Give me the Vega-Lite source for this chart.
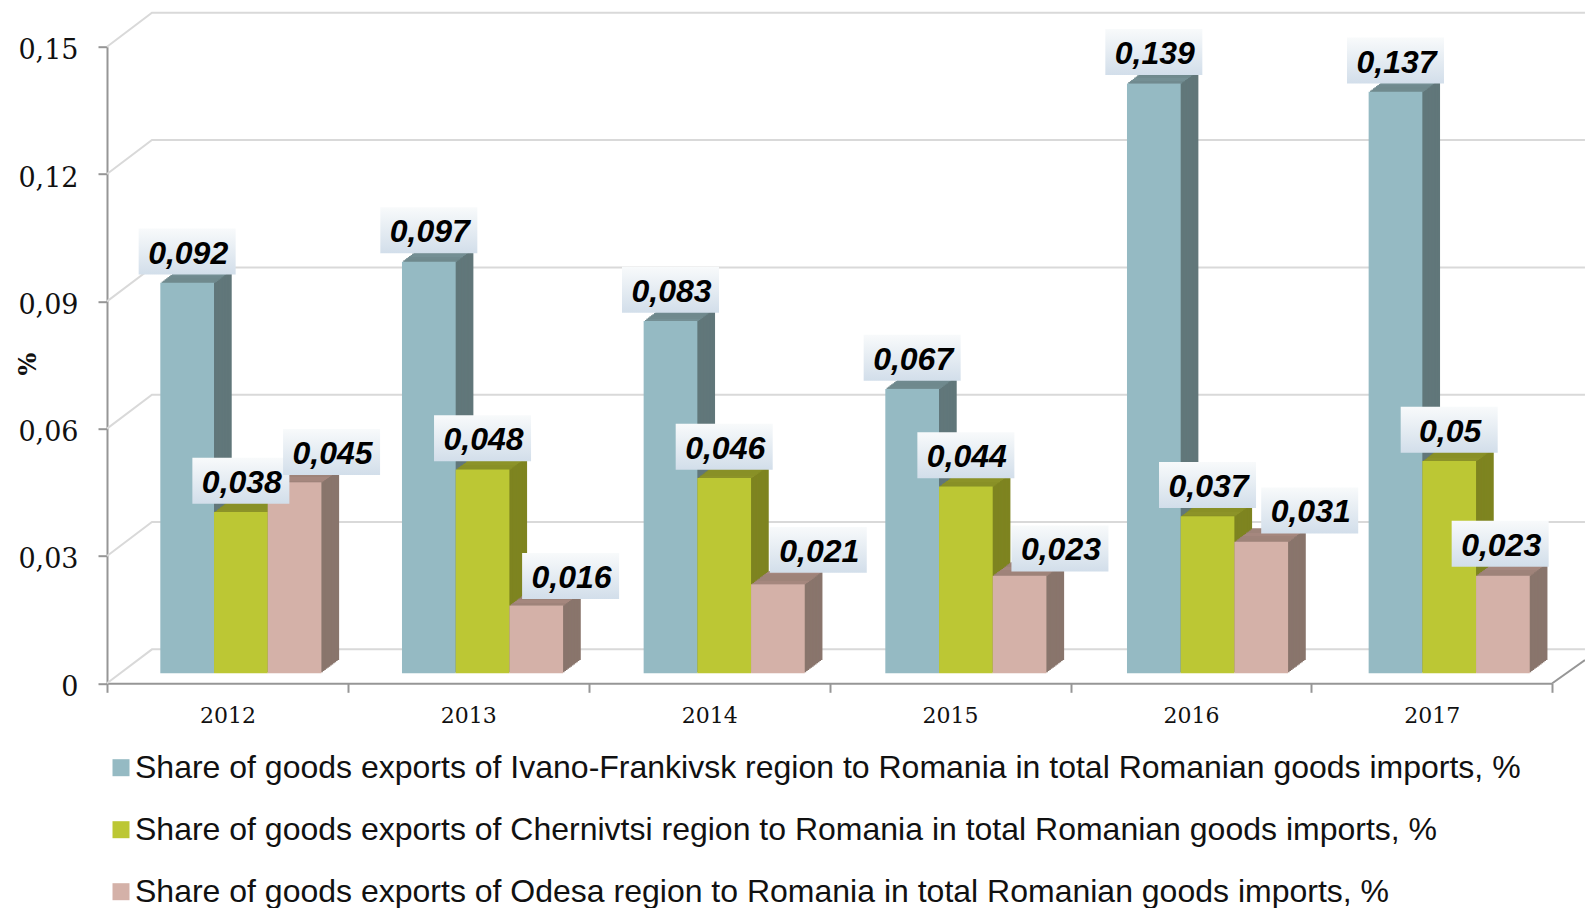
{"$schema":"https://vega.github.io/schema/vega-lite/v6.json","width":1445.3,"height":636.6,"autosize":{"type":"none"},"padding":{"left":107,"top":46.7,"right":32.7,"bottom":224.7},"background":"white","view":{"stroke":null},"config":{"axis":{"labelFont":"DejaVu Serif","labelColor":"#111111"}},
"datasets":{"bars":[
{"year":"2012","series":"Share of goods exports of Ivano-Frankivsk region to Romania in total Romanian goods imports, %","region":"Ivano-Frankivsk","value":0.092,"label":"0,092"},
{"year":"2012","series":"Share of goods exports of Chernivtsi region to Romania in total Romanian goods imports, %","region":"Chernivtsi","value":0.038,"label":"0,038"},
{"year":"2012","series":"Share of goods exports of Odesa region to Romania in total Romanian goods imports, %","region":"Odesa","value":0.045,"label":"0,045"},
{"year":"2013","series":"Share of goods exports of Ivano-Frankivsk region to Romania in total Romanian goods imports, %","region":"Ivano-Frankivsk","value":0.097,"label":"0,097"},
{"year":"2013","series":"Share of goods exports of Chernivtsi region to Romania in total Romanian goods imports, %","region":"Chernivtsi","value":0.048,"label":"0,048"},
{"year":"2013","series":"Share of goods exports of Odesa region to Romania in total Romanian goods imports, %","region":"Odesa","value":0.016,"label":"0,016"},
{"year":"2014","series":"Share of goods exports of Ivano-Frankivsk region to Romania in total Romanian goods imports, %","region":"Ivano-Frankivsk","value":0.083,"label":"0,083"},
{"year":"2014","series":"Share of goods exports of Chernivtsi region to Romania in total Romanian goods imports, %","region":"Chernivtsi","value":0.046,"label":"0,046"},
{"year":"2014","series":"Share of goods exports of Odesa region to Romania in total Romanian goods imports, %","region":"Odesa","value":0.021,"label":"0,021"},
{"year":"2015","series":"Share of goods exports of Ivano-Frankivsk region to Romania in total Romanian goods imports, %","region":"Ivano-Frankivsk","value":0.067,"label":"0,067"},
{"year":"2015","series":"Share of goods exports of Chernivtsi region to Romania in total Romanian goods imports, %","region":"Chernivtsi","value":0.044,"label":"0,044"},
{"year":"2015","series":"Share of goods exports of Odesa region to Romania in total Romanian goods imports, %","region":"Odesa","value":0.023,"label":"0,023"},
{"year":"2016","series":"Share of goods exports of Ivano-Frankivsk region to Romania in total Romanian goods imports, %","region":"Ivano-Frankivsk","value":0.139,"label":"0,139"},
{"year":"2016","series":"Share of goods exports of Chernivtsi region to Romania in total Romanian goods imports, %","region":"Chernivtsi","value":0.037,"label":"0,037"},
{"year":"2016","series":"Share of goods exports of Odesa region to Romania in total Romanian goods imports, %","region":"Odesa","value":0.031,"label":"0,031"},
{"year":"2017","series":"Share of goods exports of Ivano-Frankivsk region to Romania in total Romanian goods imports, %","region":"Ivano-Frankivsk","value":0.137,"label":"0,137"},
{"year":"2017","series":"Share of goods exports of Chernivtsi region to Romania in total Romanian goods imports, %","region":"Chernivtsi","value":0.05,"label":"0,05"},
{"year":"2017","series":"Share of goods exports of Odesa region to Romania in total Romanian goods imports, %","region":"Odesa","value":0.023,"label":"0,023"}
],
"walls":[
{"line":"0","wx":0,"wy":0},{"line":"0","wx":0.0311,"wy":0.008},{"line":"0","wx":1.0226,"wy":0.008},
{"line":"0.03","wx":0,"wy":0.03},{"line":"0.03","wx":0.0311,"wy":0.038},{"line":"0.03","wx":1.0226,"wy":0.038},
{"line":"0.06","wx":0,"wy":0.06},{"line":"0.06","wx":0.0311,"wy":0.068},{"line":"0.06","wx":1.0226,"wy":0.068},
{"line":"0.09","wx":0,"wy":0.09},{"line":"0.09","wx":0.0311,"wy":0.098},{"line":"0.09","wx":1.0226,"wy":0.098},
{"line":"0.12","wx":0,"wy":0.12},{"line":"0.12","wx":0.0311,"wy":0.128},{"line":"0.12","wx":1.0226,"wy":0.128},
{"line":"0.15","wx":0,"wy":0.15},{"line":"0.15","wx":0.0311,"wy":0.158},{"line":"0.15","wx":1.0226,"wy":0.158}
],
"corner":[{"wx":1,"wy":0},{"wx":1.0226,"wy":0.0055}]},
"resolve":{"scale":{"x":"independent"}},
"layer":[
{"data":{"name":"walls"},"mark":{"type":"line","color":"#d9d9d9","strokeWidth":2},"encoding":{"x":{"field":"wx","type":"quantitative","scale":{"domain":[0,1]},"axis":null},"y":{"field":"wy","type":"quantitative","scale":{"domain":[0,0.15],"nice":false}},"detail":{"field":"line"},"order":{"field":"wx"}}},
{"data":{"name":"corner"},"mark":{"type":"line","color":"#969696","strokeWidth":2},"encoding":{"x":{"field":"wx","type":"quantitative","scale":{"domain":[0,1]},"axis":null},"y":{"field":"wy","type":"quantitative","scale":{"domain":[0,0.15],"nice":false}}}},
{"data":{"name":"bars"},"mark":{"type":"tick","opacity":0},"encoding":{"x":{"field":"year","type":"nominal","scale":{"paddingInner":0,"paddingOuter":0},"axis":{"title":null,"labelAngle":0,"tickBand":"extent","domainColor":"#969696","domainWidth":2,"tickColor":"#969696","tickWidth":2,"tickSize":9,"labelFontSize":22,"labelPadding":13,"grid":false}},
"y":{"field":"value","type":"quantitative","scale":{"domain":[0,0.15],"nice":false},"axis":{"title":"%","titleFont":"DejaVu Serif","titleFontSize":24,"titleFontWeight":"bold","titleColor":"#111111","titleX":-67,"titleY":317,"values":[0,0.03,0.06,0.09,0.12,0.15],"labelExpr":"datum.value==0?'0':replace(format(datum.value,'.2f'),'.',',')","domainColor":"#969696","domainWidth":2,"tickColor":"#969696","tickWidth":2,"tickSize":9,"labelFontSize":27,"labelPadding":20,"labelOffset":4,"grid":false}}}},
{"data":{"name":"bars"},
"encoding":{"x":{"field":"year","type":"nominal","scale":{"paddingInner":0,"paddingOuter":0,"range":[-0.4,1449.6]},"axis":null},
"y":{"field":"value","type":"quantitative","scale":{"domain":[0,0.15],"nice":false}}},
"layer":[
{"transform":[{"filter":"datum.region=='Ivano-Frankivsk'"}],
"layer":[
{"encoding":{"y2":{"datum":0}},"layer":[
{"mark":{"type":"bar","width":53.7,"fill":"#61777a","xOffset":-22.57,"yOffset":-23.3,"y2Offset":-23.3}},
{"mark":{"type":"bar","width":53.7,"fill":"#61777a","xOffset":-24.05,"yOffset":-22.19,"y2Offset":-22.19}},
{"mark":{"type":"bar","width":53.7,"fill":"#61777a","xOffset":-25.52,"yOffset":-21.08,"y2Offset":-21.08}},
{"mark":{"type":"bar","width":53.7,"fill":"#61777a","xOffset":-27,"yOffset":-19.97,"y2Offset":-19.97}},
{"mark":{"type":"bar","width":53.7,"fill":"#61777a","xOffset":-28.47,"yOffset":-18.87,"y2Offset":-18.87}},
{"mark":{"type":"bar","width":53.7,"fill":"#61777a","xOffset":-29.95,"yOffset":-17.76,"y2Offset":-17.76}},
{"mark":{"type":"bar","width":53.7,"fill":"#61777a","xOffset":-31.42,"yOffset":-16.65,"y2Offset":-16.65}},
{"mark":{"type":"bar","width":53.7,"fill":"#61777a","xOffset":-32.9,"yOffset":-15.54,"y2Offset":-15.54}},
{"mark":{"type":"bar","width":53.7,"fill":"#61777a","xOffset":-34.37,"yOffset":-14.43,"y2Offset":-14.43}},
{"mark":{"type":"bar","width":53.7,"fill":"#61777a","xOffset":-35.85,"yOffset":-13.33,"y2Offset":-13.33}},
{"mark":{"type":"bar","width":53.7,"fill":"#61777a","xOffset":-37.32,"yOffset":-12.22,"y2Offset":-12.22}},
{"mark":{"type":"bar","width":53.7,"fill":"#61777a","xOffset":-38.8,"yOffset":-11.11,"y2Offset":-11.11}}
]},
{"encoding":{"y2":{"field":"value"}},"layer":[
{"mark":{"type":"bar","width":53.7,"fill":"#748f94","xOffset":-22.57,"yOffset":-23.3,"y2Offset":-22.19}},
{"mark":{"type":"bar","width":53.7,"fill":"#748f94","xOffset":-24.05,"yOffset":-22.19,"y2Offset":-21.08}},
{"mark":{"type":"bar","width":53.7,"fill":"#748f94","xOffset":-25.52,"yOffset":-21.08,"y2Offset":-19.97}},
{"mark":{"type":"bar","width":53.7,"fill":"#748f94","xOffset":-27,"yOffset":-19.97,"y2Offset":-18.87}},
{"mark":{"type":"bar","width":53.7,"fill":"#748f94","xOffset":-28.47,"yOffset":-18.87,"y2Offset":-17.76}},
{"mark":{"type":"bar","width":53.7,"fill":"#748f94","xOffset":-29.95,"yOffset":-17.76,"y2Offset":-16.65}},
{"mark":{"type":"bar","width":53.7,"fill":"#748f94","xOffset":-31.42,"yOffset":-16.65,"y2Offset":-15.54}},
{"mark":{"type":"bar","width":53.7,"fill":"#748f94","xOffset":-32.9,"yOffset":-15.54,"y2Offset":-14.43}},
{"mark":{"type":"bar","width":53.7,"fill":"#748f94","xOffset":-34.37,"yOffset":-14.43,"y2Offset":-13.33}},
{"mark":{"type":"bar","width":53.7,"fill":"#748f94","xOffset":-35.85,"yOffset":-13.33,"y2Offset":-12.22}},
{"mark":{"type":"bar","width":53.7,"fill":"#748f94","xOffset":-37.32,"yOffset":-12.22,"y2Offset":-11.11}},
{"mark":{"type":"bar","width":53.7,"fill":"#748f94","xOffset":-38.8,"yOffset":-11.11,"y2Offset":-10}}
]}
]},
{"transform":[{"filter":"datum.region=='Ivano-Frankivsk'"}],"mark":{"type":"bar","width":53.7,"xOffset":-40.27,"yOffset":-10,"y2Offset":-10},"encoding":{"y2":{"datum":0},"fill":{"field":"series","type":"nominal","title":null,"scale":{"domain":["Share of goods exports of Ivano-Frankivsk region to Romania in total Romanian goods imports, %","Share of goods exports of Chernivtsi region to Romania in total Romanian goods imports, %","Share of goods exports of Odesa region to Romania in total Romanian goods imports, %"],"range":["#95bac3","#bcc734","#d4b1a8"]},"legend":{"orient":"none","legendX":-2,"legendY":705,"direction":"vertical","columns":1,"symbolType":"square","symbolSize":289,"symbolStrokeWidth":0,"labelFont":"Liberation Sans","labelFontSize":32,"labelColor":"#111111","labelLimit":1500,"labelOffset":-2,"rowPadding":30,"padding":0}}}},
{"transform":[{"filter":"datum.region=='Chernivtsi'"}],
"layer":[
{"encoding":{"y2":{"datum":0}},"layer":[
{"mark":{"type":"bar","width":53.7,"fill":"#7e8420","xOffset":31.13,"yOffset":-23.3,"y2Offset":-23.3}},
{"mark":{"type":"bar","width":53.7,"fill":"#7e8420","xOffset":29.65,"yOffset":-22.19,"y2Offset":-22.19}},
{"mark":{"type":"bar","width":53.7,"fill":"#7e8420","xOffset":28.18,"yOffset":-21.08,"y2Offset":-21.08}},
{"mark":{"type":"bar","width":53.7,"fill":"#7e8420","xOffset":26.7,"yOffset":-19.97,"y2Offset":-19.97}},
{"mark":{"type":"bar","width":53.7,"fill":"#7e8420","xOffset":25.23,"yOffset":-18.87,"y2Offset":-18.87}},
{"mark":{"type":"bar","width":53.7,"fill":"#7e8420","xOffset":23.75,"yOffset":-17.76,"y2Offset":-17.76}},
{"mark":{"type":"bar","width":53.7,"fill":"#7e8420","xOffset":22.28,"yOffset":-16.65,"y2Offset":-16.65}},
{"mark":{"type":"bar","width":53.7,"fill":"#7e8420","xOffset":20.8,"yOffset":-15.54,"y2Offset":-15.54}},
{"mark":{"type":"bar","width":53.7,"fill":"#7e8420","xOffset":19.33,"yOffset":-14.43,"y2Offset":-14.43}},
{"mark":{"type":"bar","width":53.7,"fill":"#7e8420","xOffset":17.85,"yOffset":-13.33,"y2Offset":-13.33}},
{"mark":{"type":"bar","width":53.7,"fill":"#7e8420","xOffset":16.38,"yOffset":-12.22,"y2Offset":-12.22}},
{"mark":{"type":"bar","width":53.7,"fill":"#7e8420","xOffset":14.9,"yOffset":-11.11,"y2Offset":-11.11}}
]},
{"encoding":{"y2":{"field":"value"}},"layer":[
{"mark":{"type":"bar","width":53.7,"fill":"#8c9328","xOffset":31.13,"yOffset":-23.3,"y2Offset":-22.19}},
{"mark":{"type":"bar","width":53.7,"fill":"#8c9328","xOffset":29.65,"yOffset":-22.19,"y2Offset":-21.08}},
{"mark":{"type":"bar","width":53.7,"fill":"#8c9328","xOffset":28.18,"yOffset":-21.08,"y2Offset":-19.97}},
{"mark":{"type":"bar","width":53.7,"fill":"#8c9328","xOffset":26.7,"yOffset":-19.97,"y2Offset":-18.87}},
{"mark":{"type":"bar","width":53.7,"fill":"#8c9328","xOffset":25.23,"yOffset":-18.87,"y2Offset":-17.76}},
{"mark":{"type":"bar","width":53.7,"fill":"#8c9328","xOffset":23.75,"yOffset":-17.76,"y2Offset":-16.65}},
{"mark":{"type":"bar","width":53.7,"fill":"#8c9328","xOffset":22.28,"yOffset":-16.65,"y2Offset":-15.54}},
{"mark":{"type":"bar","width":53.7,"fill":"#8c9328","xOffset":20.8,"yOffset":-15.54,"y2Offset":-14.43}},
{"mark":{"type":"bar","width":53.7,"fill":"#8c9328","xOffset":19.33,"yOffset":-14.43,"y2Offset":-13.33}},
{"mark":{"type":"bar","width":53.7,"fill":"#8c9328","xOffset":17.85,"yOffset":-13.33,"y2Offset":-12.22}},
{"mark":{"type":"bar","width":53.7,"fill":"#8c9328","xOffset":16.38,"yOffset":-12.22,"y2Offset":-11.11}},
{"mark":{"type":"bar","width":53.7,"fill":"#8c9328","xOffset":14.9,"yOffset":-11.11,"y2Offset":-10}}
]}
]},
{"transform":[{"filter":"datum.region=='Chernivtsi'"}],"mark":{"type":"bar","width":53.7,"xOffset":13.43,"yOffset":-10,"y2Offset":-10},"encoding":{"y2":{"datum":0},"fill":{"field":"series","type":"nominal"}}},
{"transform":[{"filter":"datum.region=='Odesa'"}],
"layer":[
{"encoding":{"y2":{"datum":0}},"layer":[
{"mark":{"type":"bar","width":53.7,"fill":"#89756c","xOffset":84.83,"yOffset":-23.3,"y2Offset":-23.3}},
{"mark":{"type":"bar","width":53.7,"fill":"#89756c","xOffset":83.35,"yOffset":-22.19,"y2Offset":-22.19}},
{"mark":{"type":"bar","width":53.7,"fill":"#89756c","xOffset":81.88,"yOffset":-21.08,"y2Offset":-21.08}},
{"mark":{"type":"bar","width":53.7,"fill":"#89756c","xOffset":80.4,"yOffset":-19.97,"y2Offset":-19.97}},
{"mark":{"type":"bar","width":53.7,"fill":"#89756c","xOffset":78.93,"yOffset":-18.87,"y2Offset":-18.87}},
{"mark":{"type":"bar","width":53.7,"fill":"#89756c","xOffset":77.45,"yOffset":-17.76,"y2Offset":-17.76}},
{"mark":{"type":"bar","width":53.7,"fill":"#89756c","xOffset":75.98,"yOffset":-16.65,"y2Offset":-16.65}},
{"mark":{"type":"bar","width":53.7,"fill":"#89756c","xOffset":74.5,"yOffset":-15.54,"y2Offset":-15.54}},
{"mark":{"type":"bar","width":53.7,"fill":"#89756c","xOffset":73.03,"yOffset":-14.43,"y2Offset":-14.43}},
{"mark":{"type":"bar","width":53.7,"fill":"#89756c","xOffset":71.55,"yOffset":-13.33,"y2Offset":-13.33}},
{"mark":{"type":"bar","width":53.7,"fill":"#89756c","xOffset":70.08,"yOffset":-12.22,"y2Offset":-12.22}},
{"mark":{"type":"bar","width":53.7,"fill":"#89756c","xOffset":68.6,"yOffset":-11.11,"y2Offset":-11.11}}
]},
{"encoding":{"y2":{"field":"value"}},"layer":[
{"mark":{"type":"bar","width":53.7,"fill":"#a5877e","xOffset":84.83,"yOffset":-23.3,"y2Offset":-22.19}},
{"mark":{"type":"bar","width":53.7,"fill":"#a5877e","xOffset":83.35,"yOffset":-22.19,"y2Offset":-21.08}},
{"mark":{"type":"bar","width":53.7,"fill":"#a5877e","xOffset":81.88,"yOffset":-21.08,"y2Offset":-19.97}},
{"mark":{"type":"bar","width":53.7,"fill":"#a5877e","xOffset":80.4,"yOffset":-19.97,"y2Offset":-18.87}},
{"mark":{"type":"bar","width":53.7,"fill":"#a5877e","xOffset":78.93,"yOffset":-18.87,"y2Offset":-17.76}},
{"mark":{"type":"bar","width":53.7,"fill":"#a5877e","xOffset":77.45,"yOffset":-17.76,"y2Offset":-16.65}},
{"mark":{"type":"bar","width":53.7,"fill":"#a5877e","xOffset":75.98,"yOffset":-16.65,"y2Offset":-15.54}},
{"mark":{"type":"bar","width":53.7,"fill":"#a5877e","xOffset":74.5,"yOffset":-15.54,"y2Offset":-14.43}},
{"mark":{"type":"bar","width":53.7,"fill":"#a5877e","xOffset":73.03,"yOffset":-14.43,"y2Offset":-13.33}},
{"mark":{"type":"bar","width":53.7,"fill":"#a5877e","xOffset":71.55,"yOffset":-13.33,"y2Offset":-12.22}},
{"mark":{"type":"bar","width":53.7,"fill":"#a5877e","xOffset":70.08,"yOffset":-12.22,"y2Offset":-11.11}},
{"mark":{"type":"bar","width":53.7,"fill":"#a5877e","xOffset":68.6,"yOffset":-11.11,"y2Offset":-10}}
]}
]},
{"transform":[{"filter":"datum.region=='Odesa'"}],"mark":{"type":"bar","width":53.7,"xOffset":67.13,"yOffset":-10,"y2Offset":-10},"encoding":{"y2":{"datum":0},"fill":{"field":"series","type":"nominal"}}},
{"transform":[{"filter":"datum.region=='Ivano-Frankivsk'"}],"layer":[
{"mark":{"type":"point","filled":true,"opacity":1,"strokeWidth":0,"size":9409,"shape":"M-1,-0.474 L1,-0.474 L1,0.474 L-1,0.474 Z","xOffset":-40.27,"yOffset":-41.3,"fill":{"gradient":"linear","x1":0,"y1":0,"x2":0,"y2":1,"stops":[{"offset":0,"color":"#f8fafb"},{"offset":1,"color":"#d2deea"}]}}},
{"mark":{"type":"text","font":"Liberation Sans","fontSize":32,"fontWeight":"bold","fontStyle":"italic","color":"#000000","baseline":"middle","align":"center","xOffset":-39.27,"yOffset":-39.3},"encoding":{"text":{"field":"label"}}}]},
{"transform":[{"filter":"datum.region=='Chernivtsi'"}],"layer":[
{"mark":{"type":"point","filled":true,"opacity":1,"strokeWidth":0,"size":9409,"shape":"M-1,-0.474 L1,-0.474 L1,0.474 L-1,0.474 Z","xOffset":13.43,"yOffset":-41.3,"fill":{"gradient":"linear","x1":0,"y1":0,"x2":0,"y2":1,"stops":[{"offset":0,"color":"#f8fafb"},{"offset":1,"color":"#d2deea"}]}}},
{"mark":{"type":"text","font":"Liberation Sans","fontSize":32,"fontWeight":"bold","fontStyle":"italic","color":"#000000","baseline":"middle","align":"center","xOffset":14.43,"yOffset":-39.3},"encoding":{"text":{"field":"label"}}}]},
{"transform":[{"filter":"datum.region=='Odesa' && datum.year=='2012'"}],"layer":[
{"mark":{"type":"point","filled":true,"opacity":1,"strokeWidth":0,"size":9409,"shape":"M-1,-0.474 L1,-0.474 L1,0.474 L-1,0.474 Z","xOffset":104.13,"yOffset":-40.3,"fill":{"gradient":"linear","x1":0,"y1":0,"x2":0,"y2":1,"stops":[{"offset":0,"color":"#f8fafb"},{"offset":1,"color":"#d2deea"}]}}},
{"mark":{"type":"text","font":"Liberation Sans","fontSize":32,"fontWeight":"bold","fontStyle":"italic","color":"#000000","baseline":"middle","align":"center","xOffset":105.13,"yOffset":-38.3},"encoding":{"text":{"field":"label"}}}]},
{"transform":[{"filter":"datum.region=='Odesa' && datum.year=='2013'"}],"layer":[
{"mark":{"type":"point","filled":true,"opacity":1,"strokeWidth":0,"size":9409,"shape":"M-1,-0.474 L1,-0.474 L1,0.474 L-1,0.474 Z","xOffset":101.5,"yOffset":-39.3,"fill":{"gradient":"linear","x1":0,"y1":0,"x2":0,"y2":1,"stops":[{"offset":0,"color":"#f8fafb"},{"offset":1,"color":"#d2deea"}]}}},
{"mark":{"type":"text","font":"Liberation Sans","fontSize":32,"fontWeight":"bold","fontStyle":"italic","color":"#000000","baseline":"middle","align":"center","xOffset":102.5,"yOffset":-37.3},"encoding":{"text":{"field":"label"}}}]},
{"transform":[{"filter":"datum.region=='Odesa' && datum.year=='2014'"}],"layer":[
{"mark":{"type":"point","filled":true,"opacity":1,"strokeWidth":0,"size":9409,"shape":"M-1,-0.474 L1,-0.474 L1,0.474 L-1,0.474 Z","xOffset":107.5,"yOffset":-44.3,"fill":{"gradient":"linear","x1":0,"y1":0,"x2":0,"y2":1,"stops":[{"offset":0,"color":"#f8fafb"},{"offset":1,"color":"#d2deea"}]}}},
{"mark":{"type":"text","font":"Liberation Sans","fontSize":32,"fontWeight":"bold","fontStyle":"italic","color":"#000000","baseline":"middle","align":"center","xOffset":108.5,"yOffset":-42.3},"encoding":{"text":{"field":"label"}}}]},
{"transform":[{"filter":"datum.region=='Odesa' && datum.year=='2015'"}],"layer":[
{"mark":{"type":"point","filled":true,"opacity":1,"strokeWidth":0,"size":9409,"shape":"M-1,-0.474 L1,-0.474 L1,0.474 L-1,0.474 Z","xOffset":107.5,"yOffset":-37.3,"fill":{"gradient":"linear","x1":0,"y1":0,"x2":0,"y2":1,"stops":[{"offset":0,"color":"#f8fafb"},{"offset":1,"color":"#d2deea"}]}}},
{"mark":{"type":"text","font":"Liberation Sans","fontSize":32,"fontWeight":"bold","fontStyle":"italic","color":"#000000","baseline":"middle","align":"center","xOffset":108.5,"yOffset":-35.3},"encoding":{"text":{"field":"label"}}}]},
{"transform":[{"filter":"datum.region=='Odesa' && datum.year=='2016'"}],"layer":[
{"mark":{"type":"point","filled":true,"opacity":1,"strokeWidth":0,"size":9409,"shape":"M-1,-0.474 L1,-0.474 L1,0.474 L-1,0.474 Z","xOffset":115.6,"yOffset":-41.3,"fill":{"gradient":"linear","x1":0,"y1":0,"x2":0,"y2":1,"stops":[{"offset":0,"color":"#f8fafb"},{"offset":1,"color":"#d2deea"}]}}},
{"mark":{"type":"text","font":"Liberation Sans","fontSize":32,"fontWeight":"bold","fontStyle":"italic","color":"#000000","baseline":"middle","align":"center","xOffset":116.6,"yOffset":-39.3},"encoding":{"text":{"field":"label"}}}]},
{"transform":[{"filter":"datum.region=='Odesa' && datum.year=='2017'"}],"layer":[
{"mark":{"type":"point","filled":true,"opacity":1,"strokeWidth":0,"size":9409,"shape":"M-1,-0.474 L1,-0.474 L1,0.474 L-1,0.474 Z","xOffset":64.4,"yOffset":-42,"fill":{"gradient":"linear","x1":0,"y1":0,"x2":0,"y2":1,"stops":[{"offset":0,"color":"#f8fafb"},{"offset":1,"color":"#d2deea"}]}}},
{"mark":{"type":"text","font":"Liberation Sans","fontSize":32,"fontWeight":"bold","fontStyle":"italic","color":"#000000","baseline":"middle","align":"center","xOffset":65.4,"yOffset":-40},"encoding":{"text":{"field":"label"}}}]}
]}
]}
